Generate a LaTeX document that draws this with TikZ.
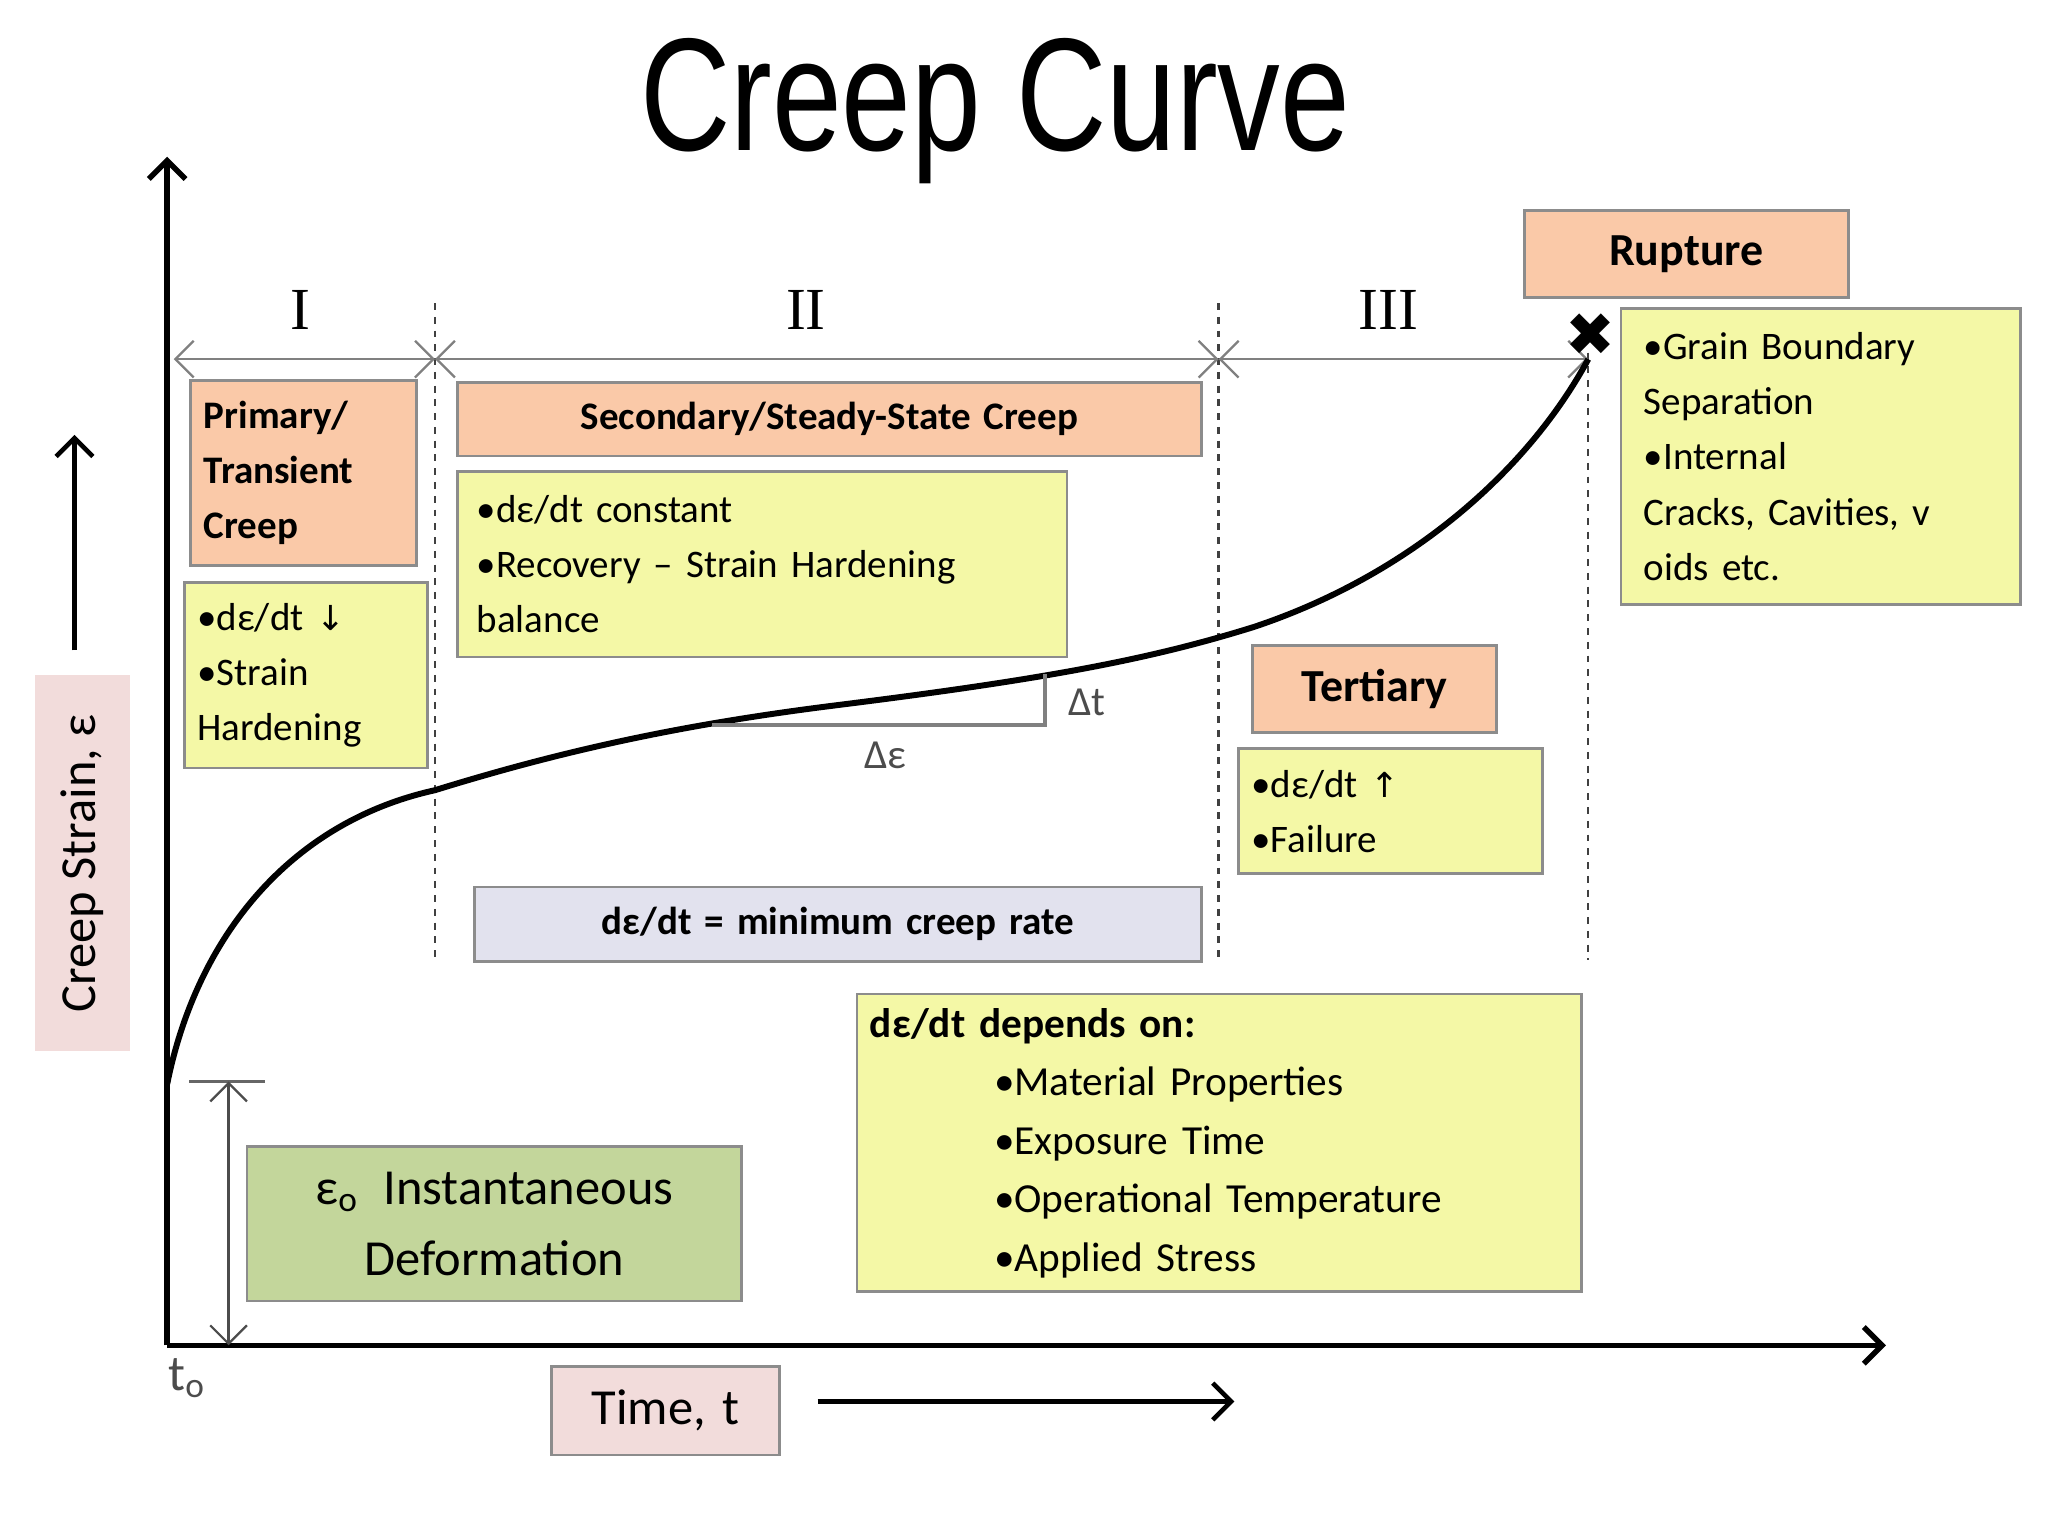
\documentclass[tikz,border=0pt]{standalone}
\usepackage{fontspec}
\setmainfont{Carlito}
\newfontfamily\titlefont{Liberation Sans}
\newfontfamily\serifnum{Liberation Serif}
\newfontfamily\dvs{DejaVu Sans}
\usetikzlibrary{arrows.meta}
\definecolor{orbox}{HTML}{FAC9A8}
\definecolor{ylbox}{HTML}{F4F8A6}
\definecolor{lvbox}{HTML}{E2E2EE}
\definecolor{grbox}{HTML}{C3D69B}
\definecolor{pkbox}{HTML}{F2DCDB}
\definecolor{edge}{HTML}{8C8C8C}
\tikzset{
 box/.style={draw=edge, line width=1.2pt, anchor=north west, inner sep=0pt, font=\fontsize{17}{24}\selectfont, align=left},
 orange/.style={box, fill=orbox, font=\bfseries\fontsize{17}{24}\selectfont},
 yellow/.style={box, fill=ylbox},
 vdash/.style={dashed, line width=1pt, black!75},
 span/.style={{Straight Barb[length=8pt]}-{Straight Barb[length=8pt]}, gray, line width=1pt},
}
\newcommand{\dn}{{\dvs\fontsize{15}{15}\selectfont ↓}}
\newcommand{\upa}{{\dvs\fontsize{15}{15}\selectfont ↑}}
\begin{document}
\begin{tikzpicture}[x=0.02cm,y=-0.02cm]
\useasboundingbox (0,0) rectangle (1568,1176);
\node[font=\titlefont\fontsize{70}{70}\selectfont, xscale=0.78] (title) at (762,85) {Creep Curve};
% axes
\coordinate (O) at (128,1030);
\coordinate (ytop) at (128,120);
\coordinate (xend) at (1444,1030);
\draw[line width=2.4pt, -{Straight Barb[length=8pt]}] (O) -- (ytop);
\draw[line width=2.4pt, -{Straight Barb[length=8pt]}] (O) -- (xend);
% dashed verticals
\coordinate (d1t) at (333,232); \coordinate (d1b) at (333,735);
\coordinate (d2t) at (933,232); \coordinate (d2b) at (933,735);
\coordinate (d3t) at (1216,270); \coordinate (d3b) at (1216,735);
\draw[vdash] (d1t) -- (d1b); \draw[vdash] (d2t) -- (d2b); \draw[vdash] (d3t) -- (d3b);
% spans
\coordinate (s0) at (133,275); \coordinate (s1) at (333,275); \coordinate (s2) at (933,275); \coordinate (s3) at (1216,275);
\draw[span] (s0) -- (s1); \draw[span] (s1) -- (s2); \draw[span] (s2) -- (s3);
\node[font=\serifnum\fontsize{26}{26}\selectfont] (r1) at (230,237) {I};
\node[font=\serifnum\fontsize{26}{26}\selectfont] (r2) at (617,237) {II};
\node[font=\serifnum\fontsize{26}{26}\selectfont] (r3) at (1063,237) {III};
% curve
\coordinate (rup) at (1216,275);
\draw[line width=2.6pt] (128,830) .. controls (150,720) and (220,630) .. (333,605)
  .. controls (430,575) and (520,555) .. (640,540)
  .. controls (800,520) and (880,505) .. (960,480)
  .. controls (1080,440) and (1170,360) .. (rup);
\node[font=\dvs\fontsize{26}{26}\selectfont] (cross) at (1218,256) {✖};
% triangle
\coordinate (ta) at (545,555); \coordinate (tb) at (800,555); \coordinate (tc) at (800,516);
\draw[gray, line width=1.5pt] (ta) -- (tb) -- (tc);
\node[font=\fontsize{18}{18}\selectfont, text=black!70] (dt) at (832,538) {Δt};
\node[font=\fontsize{18}{18}\selectfont, text=black!70] (de) at (678,578) {Δε};
% boxes
\node[orange, minimum width=3.46cm, minimum height=2.84cm, text width=3.06cm] (prim) at (145,290) {Primary/\\Transient\\Creep};
\node[orange, minimum width=11.4cm, minimum height=1.12cm, align=center, text width=11.4cm] (sec) at (349,292) {Secondary/Steady-State Creep};
\node[orange, minimum width=4.96cm, minimum height=1.34cm, align=center, text width=4.96cm, font=\bfseries\fontsize{20}{24}\selectfont] (rupt) at (1166,160) {Rupture};
\node[orange, minimum width=3.74cm, minimum height=1.34cm, align=center, text width=3.74cm, font=\bfseries\fontsize{20}{24}\selectfont] (tert) at (958,493) {Tertiary};
\node[yellow, minimum width=3.72cm, minimum height=2.84cm, text width=3.32cm] (y1) at (140,445) {•dε/dt \dn\\•Strain\\Hardening};
\node[yellow, minimum width=9.34cm, minimum height=2.84cm, text width=8.74cm] (y2) at (349,360) {•dε/dt constant\\•Recovery – Strain Hardening\\balance};
\node[yellow, minimum width=6.12cm, minimum height=4.54cm, text width=5.42cm] (y3) at (1240,235) {•Grain Boundary\\Separation\\•Internal\\Cracks, Cavities, v\\oids etc.};
\node[yellow, minimum width=4.66cm, minimum height=1.92cm, text width=4.26cm] (y4) at (947,572) {•dε/dt \upa\\•Failure};
\node[yellow, minimum width=11.1cm, minimum height=4.56cm, text width=10.7cm, font=\fontsize{18}{25.5}\selectfont] (y5) at (655,760) {\textbf{dε/dt depends on:}\\\hspace*{1.9cm}•Material Properties\\\hspace*{1.9cm}•Exposure Time\\\hspace*{1.9cm}•Operational Temperature\\\hspace*{1.9cm}•Applied Stress};
\node[box, fill=lvbox, minimum width=11.14cm, minimum height=1.14cm, text width=11.14cm, align=center, font=\bfseries\fontsize{17}{24}\selectfont] (lav) at (362,678) {dε/dt = minimum creep rate};
\node[box, fill=grbox, minimum width=7.58cm, minimum height=2.36cm, text width=7.58cm, align=center, font=\fontsize{22}{31}\selectfont] (green) at (188,877) {ε\textsubscript{o}\enspace Instantaneous\\Deformation};
\node[box, fill=pkbox, draw=none, minimum width=5.76cm, minimum height=1.46cm, align=center, anchor=center, rotate=90, font=\fontsize{22}{22}\selectfont] (ylab) at (63,661) {Creep Strain, ε};
\node[box, fill=pkbox, minimum width=3.5cm, minimum height=1.36cm, align=center, text width=3.5cm, font=\fontsize{22}{22}\selectfont] (xlab) at (421,1045) {Time, t};
% label arrows
\coordinate (ya) at (57,498); \coordinate (yb) at (57,333);
\draw[line width=2pt, -{Straight Barb[length=8pt]}] (ya) -- (yb);
\coordinate (xa) at (626,1073); \coordinate (xb) at (945,1073);
\draw[line width=2pt, -{Straight Barb[length=8pt]}] (xa) -- (xb);
% eps0 marker
\coordinate (e1) at (145,828); \coordinate (e2) at (203,828);
\draw[gray!80!black, line width=1.3pt] (e1) -- (e2);
\coordinate (ea) at (175,828); \coordinate (eb) at (175,1030);
\draw[span, black!70] (ea) -- (eb);
\node[font=\fontsize{22}{22}\selectfont, text=black!70] (t0) at (143,1055) {t\textsubscript{o}};
\end{tikzpicture}
\end{document}
